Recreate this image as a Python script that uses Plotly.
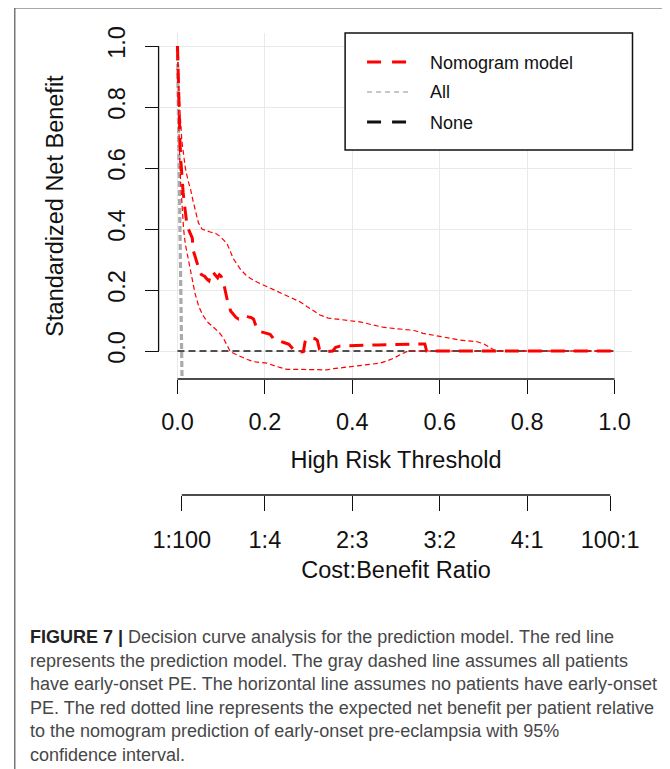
import plotly.graph_objects as go

# ---------------- data ----------------
thr_model = [0.000, 0.002, 0.004, 0.006, 0.008, 0.010, 0.013, 0.016, 0.020, 0.022,
             0.028, 0.034, 0.036, 0.040, 0.045, 0.050, 0.055, 0.062, 0.068, 0.072,
             0.076, 0.080, 0.086, 0.092, 0.096, 0.100, 0.106, 0.110, 0.115, 0.122,
             0.128, 0.134, 0.140, 0.148, 0.156, 0.162, 0.168, 0.174, 0.180, 0.186,
             0.195, 0.205, 0.212, 0.220, 0.228, 0.236, 0.245, 0.255, 0.262, 0.270,
             0.280, 0.288, 0.292, 0.296, 0.305, 0.315, 0.320, 0.325, 0.333, 0.345,
             0.355, 0.362, 0.372, 0.385, 0.400, 0.430, 0.460, 0.500, 0.540, 0.566,
             0.570, 0.600, 0.700, 0.800, 0.900, 0.995]
nb_model = [1.000, 0.860, 0.760, 0.680, 0.620, 0.570, 0.520, 0.480, 0.440, 0.410,
            0.390, 0.370, 0.330, 0.310, 0.290, 0.265, 0.250, 0.245, 0.235, 0.230,
            0.255, 0.260, 0.250, 0.240, 0.250, 0.245, 0.220, 0.190, 0.160, 0.130,
            0.120, 0.110, 0.105, 0.110, 0.115, 0.112, 0.110, 0.105, 0.080, 0.065,
            0.062, 0.058, 0.055, 0.040, 0.035, 0.030, 0.027, 0.022, 0.010, -0.002,
            -0.004, -0.002, 0.030, 0.040, 0.042, 0.040, 0.035, 0.005, 0.000, -0.002,
            0.000, 0.012, 0.016, 0.017, 0.016, 0.019, 0.020, 0.021, 0.023, 0.023,
            0.000, 0.000, 0.000, 0.000, 0.000, 0.000]

thr_upper = [0.000, 0.003, 0.006, 0.010, 0.014, 0.018, 0.024, 0.030, 0.036, 0.041,
             0.048, 0.056, 0.065, 0.075, 0.088, 0.098, 0.108, 0.114, 0.120, 0.127,
             0.136, 0.145, 0.156, 0.167, 0.182, 0.197, 0.215, 0.235, 0.250, 0.266,
             0.282, 0.296, 0.312, 0.326, 0.345, 0.365, 0.385, 0.403, 0.420, 0.448,
             0.470, 0.494, 0.520, 0.540, 0.562, 0.580, 0.600, 0.625, 0.646, 0.665,
             0.684, 0.700, 0.710, 0.718, 0.726, 0.740, 0.995]
nb_upper = [1.000, 0.880, 0.780, 0.690, 0.640, 0.600, 0.560, 0.530, 0.490, 0.460,
            0.420, 0.400, 0.395, 0.390, 0.385, 0.375, 0.360, 0.350, 0.330, 0.305,
            0.285, 0.266, 0.250, 0.238, 0.226, 0.216, 0.205, 0.190, 0.180, 0.172,
            0.160, 0.146, 0.130, 0.118, 0.108, 0.104, 0.100, 0.098, 0.095, 0.085,
            0.078, 0.074, 0.071, 0.068, 0.058, 0.053, 0.049, 0.042, 0.036, 0.033,
            0.031, 0.024, 0.017, 0.009, 0.002, 0.000, 0.000]

thr_lower = [0.000, 0.002, 0.004, 0.007, 0.010, 0.014, 0.018, 0.022, 0.028, 0.034,
             0.040, 0.049, 0.058, 0.068, 0.080, 0.094, 0.104, 0.113, 0.121, 0.132,
             0.144, 0.160, 0.174, 0.190, 0.205, 0.225, 0.250, 0.275, 0.296, 0.320,
             0.341, 0.357, 0.375, 0.395, 0.415, 0.433, 0.450, 0.463, 0.480, 0.494,
             0.510, 0.524, 0.540, 0.995]
nb_lower = [1.000, 0.800, 0.680, 0.560, 0.480, 0.400, 0.350, 0.320, 0.270, 0.230,
            0.190, 0.145, 0.118, 0.096, 0.080, 0.063, 0.045, 0.020, -0.002, -0.010,
            -0.018, -0.028, -0.035, -0.038, -0.040, -0.050, -0.060, -0.060, -0.060, -0.061,
            -0.062, -0.058, -0.055, -0.051, -0.049, -0.046, -0.044, -0.040, -0.032, -0.024,
            -0.012, -0.002, 0.000, 0.000]

thr_all = [0.000, 0.004, 0.008, 0.0105]
nb_all = [1.000, 0.620, 0.200, -0.100]

thr_none = [0.0, 1.0]
nb_none = [0.0, 0.0]

x_ticks = [0.0, 0.2, 0.4, 0.6, 0.8, 1.0]
x_tick_labels = ["0.0", "0.2", "0.4", "0.6", "0.8", "1.0"]
y_ticks = [0.0, 0.2, 0.4, 0.6, 0.8, 1.0]
y_tick_labels = ["0.0", "0.2", "0.4", "0.6", "0.8", "1.0"]
cb_labels = ["1:100", "1:4", "2:3", "3:2", "4:1", "100:1"]

legend_names = ["Nomogram model", "All", "None"]

caption_lines = [
    "<b style='color:#222222'>FIGURE 7 |</b> Decision curve analysis for the prediction model. The red line",
    "represents the prediction model. The gray dashed line assumes all patients",
    "have early-onset PE. The horizontal line assumes no patients have early-onset",
    "PE. The red dotted line represents the expected net benefit per patient relative",
    "to the nomogram prediction of early-onset pre-eclampsia with 95%",
    "confidence interval.",
]


def ratio_to_threshold(label):
    c, b = (float(v) for v in label.split(":"))
    return c / (c + b)


cb_ticks = [ratio_to_threshold(s) for s in cb_labels]

# ---------------- geometry ----------------
# The page body has an 8px margin, so the figure starts 8px right/down of the
# window corner; positions below are given in window pixels and converted.
OFF = 8
W, H = 670, 769
ML = 159.5 - OFF
MR = W - (632.5 - OFF)
MT = 33 - OFF
MB = H - (495 - OFF)
PW = W - ML - MR
PH = H - MT - MB


def px(x):
    return (x - OFF - ML) / PW


def py(y):
    return (H - MB - (y - OFF)) / PH


FONT = "Liberation Sans, Arial, sans-serif"
RED = "#ff0000"
INK = "#111111"

fig = go.Figure()

fig.add_trace(go.Scatter(x=thr_none, y=nb_none, mode="lines", name="None",
                         line=dict(color="#1a1a1a", width=1.6, dash="7px,4px"),
                         showlegend=False, hoverinfo="skip"))
fig.add_trace(go.Scatter(x=thr_all, y=nb_all, mode="lines", name="All",
                         line=dict(color="#aaaaaa", width=3.2, dash="6px,3px"),
                         showlegend=False, hoverinfo="skip"))
fig.add_trace(go.Scatter(x=thr_upper, y=nb_upper, mode="lines", name="upper 95% CI",
                         line=dict(color=RED, width=1.2, dash="5px,3px"),
                         showlegend=False, hoverinfo="skip"))
fig.add_trace(go.Scatter(x=thr_lower, y=nb_lower, mode="lines", name="lower 95% CI",
                         line=dict(color=RED, width=1.2, dash="5px,3px"),
                         showlegend=False, hoverinfo="skip"))
fig.add_trace(go.Scatter(x=thr_model, y=nb_model, mode="lines", name="Nomogram model",
                         line=dict(color=RED, width=3, dash="14px,9px"),
                         showlegend=False, hoverinfo="skip"))
# invisible trace that carries the second (cost:benefit) axis
fig.add_trace(go.Scatter(x=[cb_ticks[0], cb_ticks[-1]], y=[0, 0], xaxis="x2", yaxis="y2",
                         mode="lines", line=dict(width=0), showlegend=False, hoverinfo="skip"))

K = 438.0  # pixels per threshold unit
x0 = -(177 - 159.5) / K
x1 = x0 + PW / K
y_bottom_px = 379
ydom0 = py(y_bottom_px)
yr0 = (351 - y_bottom_px) / 305
yr1 = (351 - 33) / 305

axis_font = dict(family=FONT, size=23.5, color=INK)

fig.update_layout(
    width=W, height=H,
    margin=dict(l=ML, r=MR, t=MT, b=MB),
    paper_bgcolor="white", plot_bgcolor="white",
    showlegend=False,
    font=dict(family=FONT, color=INK),
    xaxis=dict(domain=[0, 1], anchor="y", range=[x0, x1],
               tickvals=x_ticks, ticktext=x_tick_labels, tickfont=axis_font,
               ticks="outside", ticklen=14, tickwidth=1.3, tickcolor=INK,
               ticklabelstandoff=8,
               showgrid=True, gridcolor="#e9e9e9", gridwidth=1.3,
               showline=False, zeroline=False,
               title=dict(text="High Risk Threshold", font=axis_font, standoff=17)),
    yaxis=dict(domain=[ydom0, 1], anchor="x", range=[yr0, yr1],
               tickvals=y_ticks, ticktext=y_tick_labels, tickfont=axis_font,
               tickangle=-90,
               ticks="outside", ticklen=14, tickwidth=1.3, tickcolor=INK,
               ticklabelstandoff=11,
               showgrid=True, gridcolor="#e9e9e9", gridwidth=1.3,
               showline=False, zeroline=False,
               title=dict(text="Standardized Net Benefit", font=axis_font, standoff=33)),
    xaxis2=dict(domain=[0, 1], anchor="y2", range=[x0, x1],
                tickvals=cb_ticks, ticktext=cb_labels, tickfont=axis_font,
                ticks="outside", ticklen=15, tickwidth=1.3, tickcolor=INK,
                ticklabelstandoff=9,
                showgrid=False, showline=False, zeroline=False,
                title=dict(text="Cost:Benefit Ratio", font=axis_font, standoff=9)),
    yaxis2=dict(domain=[0, 0.01], anchor="x2", visible=False, range=[0, 1]),
)

shapes = []
# R-style axis lines spanning the tick range only
shapes.append(dict(type="line", xref="x domain", x0=-0.003, x1=-0.003, yref="y", y0=0, y1=1,
                   line=dict(color=INK, width=1.3)))
shapes.append(dict(type="line", xref="x", x0=0, x1=1, yref="y domain", y0=0, y1=0,
                   line=dict(color=INK, width=1.3)))
shapes.append(dict(type="line", xref="x2", x0=cb_ticks[0], x1=cb_ticks[-1], yref="y2 domain",
                   y0=0, y1=0, line=dict(color=INK, width=1.3)))
# legend box
shapes.append(dict(type="rect", xref="paper", yref="paper", x0=px(345), x1=px(633),
                   y0=py(150), y1=py(33), line=dict(color=INK, width=1.5),
                   fillcolor="white", layer="above"))
leg_styles = [
    (RED, 3, "14px,11px", 62, 407),
    ("#b5b5b5", 1.5, "5px,4px", 92, 412),
    (INK, 3, "14px,11px", 122, 407),
]
for color, width, dash, yy, xend in leg_styles:
    shapes.append(dict(type="line", xref="paper", yref="paper", x0=px(367), x1=px(xend),
                       y0=py(yy), y1=py(yy), line=dict(color=color, width=width, dash=dash),
                       layer="above"))
# figure border
shapes.append(dict(type="rect", xref="paper", yref="paper", x0=px(14), x1=px(667),
                   y0=py(790), y1=py(8), line=dict(color="#555555", width=1.2),
                   fillcolor="rgba(0,0,0,0)", layer="above"))
fig.update_layout(shapes=shapes)

annotations = []
for name, yy in zip(legend_names, [63, 92, 123]):
    annotations.append(dict(text=name, xref="paper", yref="paper", x=px(428), y=py(yy),
                            xanchor="left", yanchor="middle", showarrow=False,
                            font=dict(family=FONT, size=18, color=INK)))
cap_y = [637, 660.5, 684, 707.5, 731, 754.5]
for line, yy in zip(caption_lines, cap_y):
    annotations.append(dict(text=line, xref="paper", yref="paper", x=px(27), y=py(yy),
                            xanchor="left", yanchor="middle", showarrow=False,
                            font=dict(family=FONT, size=18, color="#474747")))
fig.update_layout(annotations=annotations)

fig.write_html("out.html")
